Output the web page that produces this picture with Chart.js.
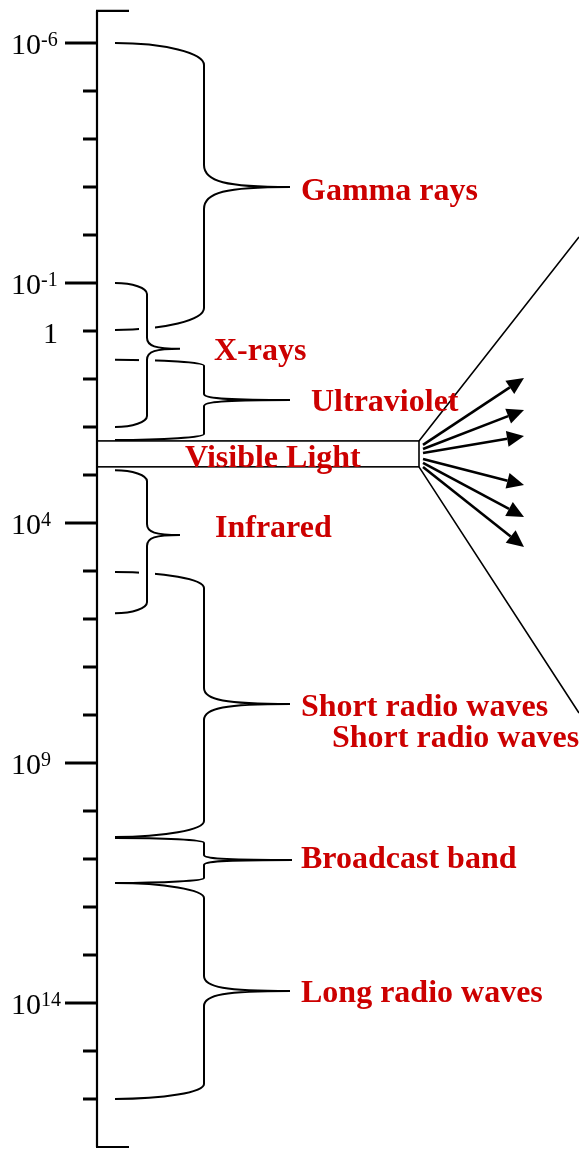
<!DOCTYPE html>
<html>
<head>
<meta charset="utf-8">
<script src="https://cdn.jsdelivr.net/npm/chart.js@4.4.1/dist/chart.umd.min.js"></script>
<style>
  body { margin: 0; background: #fff; }
  #wrap { width: 579px; height: 1150px; }
</style>
</head>
<body>
<div id="wrap"><canvas id="espectro" width="579" height="1150"></canvas></div>
<script>
// axis range (exponent of ten) and ticks
const axisRange = [-6.67, 17];
const tickValues = [-6, -5, -4, -3, -2, -1, 0, 1, 2, 3, 4, 5, 6, 7, 8, 9, 10, 11, 12, 13, 14, 15, 16];
const majorTicks = [-6, -1, 4, 9, 14];
const tickLabelValues = [-6, -1, 0, 4, 9, 14];
const tickLabelBase = ['10', '10', '1', '10', '10', '10'];
const tickLabelExp = ['-6', '-1', '', '4', '9', '14'];

// bands: start, end and the point of the brace
const bandNames = ['Gamma rays', 'X-rays', 'Ultraviolet', 'Visible Light', 'Infrared',
                   'Short radio waves', 'Broadcast band', 'Long radio waves'];
const bandStart = [-6, -1, 0.6, 2.29, 2.9, 5.02, 10.56, 11.5];
const bandEnd   = [-0.02, 2, 2.27, 2.83, 5.88, 10.54, 11.5, 16];
const bandTip   = [-3, 0.37, 1.44, null, 4.25, 7.77, 11.02, 13.75];
const extraLabel = 'Short radio waves';

// drawing style for each band (pixels)
const braceX0 = 115;
const braceXv = [204, 147, 204, null, 147, 204, 204, 204];
const braceXt = [290, 180, 290, null, 180, 290, 292, 290];
const braceR  = [22, 11, 6, null, 11, 16, 5, 15];
const braceGap = [false, true, false, false, true, false, false, false];
const labelX  = [301, 214, 311, 185, 215, 301, 301, 301];
const labelDy = [13, 11, 11, 13, 2, 12, 8, 11];
const RED = 'rgb(204,0,0)';

function brace(ctx, x0, xv, xt, yTop, yTip, yBot, r) {
  ctx.beginPath();
  ctx.moveTo(x0, yTop);
  ctx.bezierCurveTo(x0 + (xv - x0) * 0.55, yTop, xv, yTop + r * 0.45, xv, yTop + r);
  ctx.lineTo(xv, yTip - r);
  ctx.bezierCurveTo(xv, yTip - r * 0.25, xv + (xt - xv) * 0.25, yTip, xt, yTip);
  ctx.bezierCurveTo(xv + (xt - xv) * 0.25, yTip, xv, yTip + r * 0.25, xv, yTip + r);
  ctx.lineTo(xv, yBot - r);
  ctx.bezierCurveTo(xv, yBot - r * 0.45, x0 + (xv - x0) * 0.55, yBot, x0, yBot);
  ctx.stroke();
}

function arrow(ctx, x1, y1, x2, y2) {
  const a = Math.atan2(y2 - y1, x2 - x1);
  const L = 17, W = 8;
  const bx = x2 - L * Math.cos(a), by = y2 - L * Math.sin(a);
  ctx.beginPath();
  ctx.moveTo(x1, y1);
  ctx.lineTo(bx, by);
  ctx.stroke();
  ctx.beginPath();
  ctx.moveTo(x2, y2);
  ctx.lineTo(bx + W * Math.sin(a), by - W * Math.cos(a));
  ctx.lineTo(bx - W * Math.sin(a), by + W * Math.cos(a));
  ctx.closePath();
  ctx.fill();
}

const dibujo = {
  id: 'dibujo',
  afterDraw(chart) {
    const ctx = chart.ctx;
    const ys = chart.scales.y, xs = chart.scales.x;
    const Y = v => ys.getPixelForValue(v);
    const X = v => xs.getPixelForValue(v);
    const axisX = X(97);
    ctx.save();
    ctx.strokeStyle = '#000';
    ctx.fillStyle = '#000';

    // braces without gap first
    ctx.lineWidth = 2;
    bandNames.forEach((n, i) => {
      if (bandTip[i] === null || braceGap[i]) return;
      brace(ctx, X(braceX0), X(braceXv[i]), X(braceXt[i]), Y(bandStart[i]), Y(bandTip[i]), Y(bandEnd[i]), braceR[i]);
    });
    // braces that cut the others
    bandNames.forEach((n, i) => {
      if (!braceGap[i]) return;
      const xv = X(braceXv[i]);
      ctx.fillStyle = '#fff';
      ctx.fillRect(xv - 8, Y(bandStart[i]) + braceR[i], 16, Y(bandEnd[i]) - Y(bandStart[i]) - 2 * braceR[i]);
      ctx.fillStyle = '#000';
      brace(ctx, X(braceX0), xv, X(braceXt[i]), Y(bandStart[i]), Y(bandTip[i]), Y(bandEnd[i]), braceR[i]);
    });

    // visible light box
    const vi = bandNames.indexOf('Visible Light');
    const vTop = Y(bandStart[vi]), vBot = Y(bandEnd[vi]);
    const vRight = X(419);
    ctx.lineWidth = 1.6;
    ctx.strokeRect(axisX, vTop, vRight - axisX, vBot - vTop);

    // fan of lines and arrows
    ctx.lineWidth = 1.6;
    ctx.beginPath();
    ctx.moveTo(vRight, vTop); ctx.lineTo(X(579), Y(-1.96));
    ctx.moveTo(vRight, vBot); ctx.lineTo(X(579), Y(7.96));
    ctx.stroke();
    ctx.lineWidth = 2.6;
    const startDy = [4, 8, 12, 18, 22, 26];
    const tipY = [378, 410, 436, 485, 517, 547];
    startDy.forEach((d, k) => arrow(ctx, X(423), vTop + d, X(524), tipY[k]));

    // axis
    ctx.lineWidth = 2.2;
    ctx.beginPath();
    ctx.moveTo(axisX, Y(axisRange[0])); ctx.lineTo(axisX, Y(axisRange[1]));
    ctx.moveTo(axisX - 1, Y(axisRange[0])); ctx.lineTo(X(129), Y(axisRange[0]));
    ctx.moveTo(axisX - 1, Y(axisRange[1])); ctx.lineTo(X(129), Y(axisRange[1]));
    ctx.stroke();
    ctx.lineWidth = 3;
    tickValues.forEach(v => {
      const len = majorTicks.includes(v) ? 32 : 14;
      ctx.beginPath();
      ctx.moveTo(axisX - len, Y(v)); ctx.lineTo(axisX, Y(v));
      ctx.stroke();
    });

    // tick labels
    ctx.fillStyle = '#000';
    ctx.textBaseline = 'alphabetic';
    tickLabelValues.forEach((v, k) => {
      const y = Y(v);
      ctx.font = '30px "Liberation Serif"';
      if (tickLabelExp[k] === '') {
        ctx.textAlign = 'right';
        ctx.fillText(tickLabelBase[k], 58, y + 12);
        return;
      }
      ctx.textAlign = 'left';
      ctx.fillText(tickLabelBase[k], 11, y + 11);
      const w = ctx.measureText(tickLabelBase[k]).width;
      ctx.font = '20px "Liberation Serif"';
      ctx.fillText(tickLabelExp[k], 11 + w, y + 3);
    });

    // band labels
    ctx.fillStyle = RED;
    ctx.textAlign = 'left';
    ctx.font = 'bold 32px "Liberation Serif"';
    bandNames.forEach((n, i) => {
      const yc = bandTip[i] === null ? (vTop + vBot) / 2 : Y(bandTip[i]);
      ctx.fillText(n, X(labelX[i]), yc + labelDy[i]);
    });
    const si = bandNames.indexOf(extraLabel);
    ctx.fillText(extraLabel, X(332), Y(bandTip[si]) + 43);
    ctx.restore();
  }
};

new Chart(document.getElementById('espectro'), {
  type: 'scatter',
  data: { datasets: [{ data: [], pointRadius: 0 }] },
  options: {
    responsive: false,
    animation: false,
    devicePixelRatio: 1,
    layout: { padding: 0 },
    plugins: { legend: { display: false }, tooltip: { enabled: false } },
    scales: {
      x: { type: 'linear', display: false, min: 0, max: 579 },
      y: { type: 'linear', display: false, reverse: true, min: -331 / 48, max: 819 / 48 }
    }
  },
  plugins: [dibujo]
});
</script>
</body>
</html>
